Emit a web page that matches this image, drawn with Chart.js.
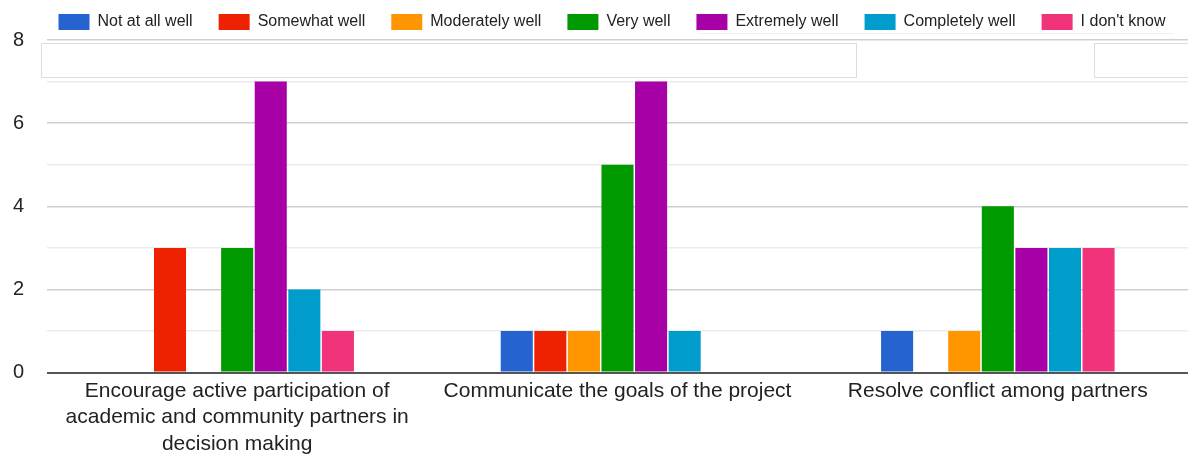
<!DOCTYPE html>
<html lang="en">

<head>
    <meta charset="UTF-8">
    <title>Partnership ratings</title>
    <style>
        body { margin: 0; background: #fff; overflow: hidden; }
        #wrap { position: relative; top: -12px; width: 1188px; height: 474px; }
    </style>
</head>

<body>
    <div id="wrap">
        <canvas id="myChart"></canvas>
    </div>

    <script src="https://cdn.jsdelivr.net/npm/chart.js"></script>

    <script>
        // questions (x axis)
        let v_labels = [
            ["Encourage active participation of", "academic and community partners in", "decision making"],
            "Communicate the goals of the project",
            "Resolve conflict among partners"
        ];

        // answer counts per question
        let v_notAtAll = [0, 1, 1];
        let v_somewhat = [3, 1, 0];
        let v_moderately = [0, 1, 1];
        let v_very = [3, 5, 4];
        let v_extremely = [7, 7, 3];
        let v_completely = [2, 1, 3];
        let v_dontKnow = [1, 0, 3];

        let v_yTicks = [0, 2, 4, 6, 8];

        const FONT = "'Liberation Sans', Arial, Helvetica, sans-serif";

        function ds(label, data, color) {
            return {
                label: label,
                data: data,
                backgroundColor: color,
                borderWidth: 0
            };
        }

        // push the legend a bit to the right so it sits over the plot
        const legendShift = {
            id: "legendShift",
            afterLayout(chart) {
                chart.legend.left += 15;
                chart.legend.right += 15;
            }
        };

        // faint empty boxes over the top of the plot + thin rule under the legend
        const boxPlugin = {
            id: "boxes",
            afterDraw(chart) {
                const c = chart.ctx;
                const a = chart.chartArea;
                const y = chart.scales.y;
                const top = Math.round(y.getPixelForValue(8)) + 3;
                const bot = Math.round(y.getPixelForValue(7)) - 5;
                c.save();
                c.strokeStyle = "#dcdcdc";
                c.lineWidth = 1;
                c.fillStyle = "#fff";
                c.fillRect(a.left - 6, top, 815, bot - top);
                c.strokeRect(a.left - 6 + 0.5, top + 0.5, 815, bot - top);
                c.fillRect(1094, top, 100, bot - top);
                c.strokeRect(1094.5, top + 0.5, 100, bot - top);
                c.strokeStyle = "#f2f2f2";
                c.beginPath();
                c.moveTo(699, top - 9.5);
                c.lineTo(1174, top - 9.5);
                c.stroke();
                c.restore();
            }
        };

        const ctx = document.getElementById("myChart");

        let v_chart = new Chart(ctx, {
            type: "bar",
            data: {
                labels: v_labels,
                datasets: [
                    ds("Not at all well", v_notAtAll, "#2563d0"),
                    ds("Somewhat well", v_somewhat, "#ee2200"),
                    ds("Moderately well", v_moderately, "#ff9600"),
                    ds("Very well", v_very, "#009900"),
                    ds("Extremely well", v_extremely, "#a600a6"),
                    ds("Completely well", v_completely, "#009ccc"),
                    ds("I don't know", v_dontKnow, "#f0337a")
                ]
            },
            options: {
                responsive: true,
                maintainAspectRatio: false,
                animation: false,
                layout: {
                    padding: { left: 6, right: 0, top: 0, bottom: 0 }
                },
                datasets: {
                    bar: {
                        categoryPercentage: 0.618,
                        barPercentage: 0.955
                    }
                },
                plugins: {
                    legend: {
                        position: "top",
                        labels: {
                            boxWidth: 31,
                            boxHeight: 16,
                            padding: 26,
                            color: "#222",
                            font: { family: FONT, size: 16 }
                        }
                    },
                    tooltip: { enabled: false }
                },
                scales: {
                    x: {
                        grid: { display: false, drawTicks: false },
                        border: { display: false },
                        ticks: {
                            maxRotation: 0,
                            autoSkip: false,
                            padding: 5,
                            color: "#222",
                            font: { family: FONT, size: 21, lineHeight: 1.26 }
                        }
                    },
                    y: {
                        min: 0,
                        max: 8,
                        afterFit: (s) => { s.width = 41; },
                        border: { display: false },
                        grid: {
                            drawTicks: false,
                            color: (c) => {
                                if (c.tick.value === 0) return "#555";
                                return c.tick.value % 2 === 0 ? "#cfcfcf" : "#ebebeb";
                            },
                            lineWidth: (c) => (c.tick.value === 0 ? 2 : 1.5)
                        },
                        ticks: {
                            stepSize: 1,
                            padding: 23,
                            color: "#222",
                            font: { family: FONT, size: 20 },
                            callback: (v) => (v_yTicks.includes(v) ? v : "")
                        }
                    }
                }
            },
            plugins: [legendShift, boxPlugin]
        });
    </script>
</body>

</html>
